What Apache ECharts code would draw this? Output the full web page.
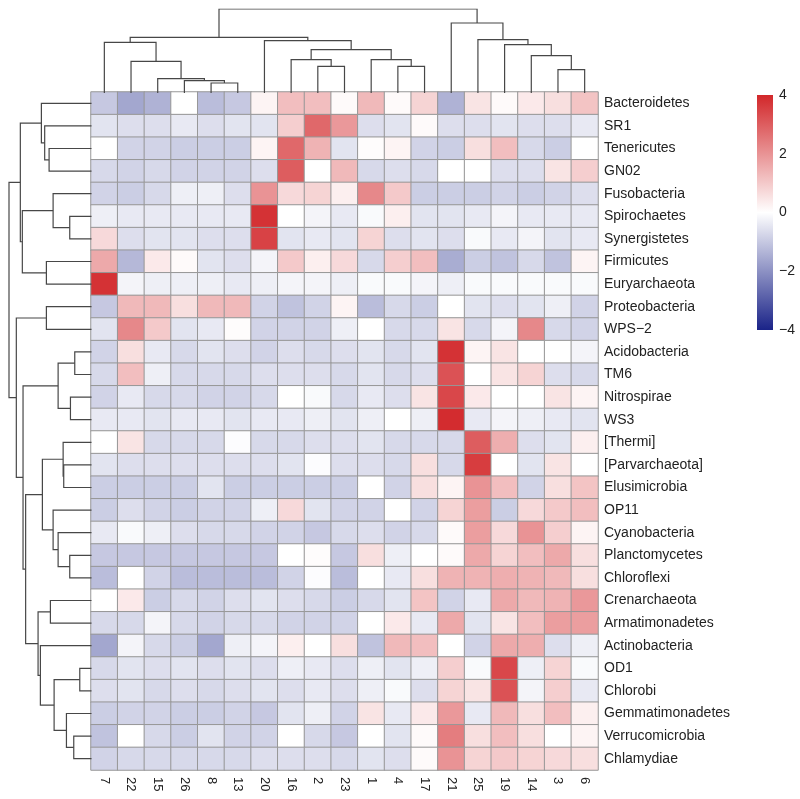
<!DOCTYPE html>
<html><head><meta charset="utf-8">
<script src="https://cdn.jsdelivr.net/npm/echarts@6/dist/echarts.min.js"></script>
<style>html,body{margin:0;padding:0;background:#fff}#c{width:800px;height:799px}</style>
</head><body><div id="c"></div>
<script>
const columns = ["7","22","15","26","8","13","20","16","2","23","1","4","17","21","25","19","14","3","6"];
const rows = ["Bacteroidetes","SR1","Tenericutes","GN02","Fusobacteria","Spirochaetes","Synergistetes","Firmicutes","Euryarchaeota","Proteobacteria","WPS\u22122","Acidobacteria","TM6","Nitrospirae","WS3","[Thermi]","[Parvarchaeota]","Elusimicrobia","OP11","Cyanobacteria","Planctomycetes","Chloroflexi","Crenarchaeota","Armatimonadetes","Actinobacteria","OD1","Chlorobi","Gemmatimonadetes","Verrucomicrobia","Chlamydiae"];
const values = [
 [-1.0,-1.6,-1.4,0,-1.2,-1.0,0.2,1.2,1.2,0.1,1.3,0.1,0.8,-1.4,0.5,0.1,0.4,0.6,1.1],
 [-0.5,-0.6,-0.6,-0.4,-0.6,-0.5,-0.5,0.9,2.8,1.9,-0.6,-0.5,0.1,-0.6,-0.6,-0.5,-0.6,-0.6,-0.4],
 [0,-0.8,-0.8,-0.9,-0.9,-0.9,0.2,2.8,1.4,-0.5,0.05,0.2,-0.8,-0.9,0.6,1.2,-0.7,-0.9,0],
 [-0.7,-0.8,-0.7,-0.8,-0.8,-0.8,-0.6,3.0,0,1.3,-0.7,-0.6,-0.7,0,0,-0.6,-0.6,0.5,0.9],
 [-0.8,-0.9,-0.7,-0.3,-0.3,-0.6,2.0,0.7,0.8,0.3,2.2,1.0,-0.9,-0.9,-0.9,-0.8,-0.9,-0.8,-0.6],
 [-0.3,-0.4,-0.4,-0.4,-0.4,-0.4,3.8,0,-0.2,-0.4,-0.1,0.3,-0.5,-0.5,-0.4,-0.2,-0.4,-0.4,-0.4],
 [0.7,-0.6,-0.5,-0.5,-0.6,-0.6,3.5,-0.5,-0.4,-0.5,0.8,-0.6,-0.5,-0.6,-0.1,-0.4,-0.2,-0.5,-0.4],
 [1.6,-1.3,0.4,0.1,-0.5,-0.6,-0.2,1.0,0.3,0.7,-0.7,0.9,1.2,-1.5,-0.9,-1.1,-0.7,-1.1,0.2],
 [3.8,-0.2,-0.3,-0.3,-0.3,-0.4,-0.3,-0.2,-0.2,-0.3,-0.1,-0.1,-0.2,-0.3,-0.1,-0.1,-0.1,-0.1,-0.1],
 [-1.0,1.3,1.3,0.6,1.3,1.3,-0.8,-1.1,-0.8,0.2,-1.2,-0.7,-0.9,0,-0.5,-0.6,-0.5,-0.3,-0.8],
 [-0.5,2.2,1.0,-0.5,-0.4,0.05,-0.8,-0.8,-0.8,-0.3,0,-0.7,-0.7,0.5,-0.7,-0.2,2.2,-0.7,-0.8],
 [-0.8,0.6,-0.4,-0.7,-0.5,-0.6,-0.8,-0.6,-0.7,-0.6,-0.5,-0.7,-0.5,3.8,0.2,0.5,0,0,-0.2],
 [-0.7,1.2,-0.3,-0.7,-0.7,-0.7,-0.6,-0.6,-0.6,-0.7,-0.5,-0.7,-0.6,3.2,0,0.5,0.8,-0.6,-0.7],
 [-0.8,-0.4,-0.7,-0.7,-0.8,-0.8,-0.7,0,-0.1,-0.7,-0.4,-0.6,0.5,3.4,0.4,0,0,0.5,0.2],
 [-0.4,-0.4,-0.5,-0.4,-0.4,-0.5,-0.4,-0.4,-0.3,-0.5,-0.3,0,-0.3,3.9,-0.4,-0.2,-0.3,-0.4,-0.5],
 [0,0.5,-0.7,-0.7,-0.7,-0.05,-0.7,-0.7,-0.6,-0.6,-0.5,-0.7,-0.7,-0.7,3.0,1.5,-0.6,-0.5,0.3],
 [-0.5,-0.6,-0.6,-0.6,-0.6,-0.6,-0.6,-0.5,-0.05,-0.6,-0.6,-0.7,0.6,-0.7,3.6,0,-0.5,0.5,0],
 [-0.9,-0.9,-0.9,-0.9,-0.5,-0.9,-0.9,-0.9,-0.9,-0.9,0,-0.8,0.6,0.2,2.0,1.2,-0.8,0.6,1.1],
 [-0.9,-0.6,-0.8,-0.9,-0.8,-0.8,-0.3,0.7,-0.5,-0.8,-0.8,0,-0.8,0.8,1.8,-0.9,0.7,1.0,1.2],
 [-0.4,-0.1,-0.3,-0.6,-0.7,-0.7,-0.8,-0.8,-1.0,-0.7,-0.6,-0.8,-0.7,0.1,1.8,0.7,2.0,0.9,0.2],
 [-1.0,-1.0,-1.0,-1.0,-1.0,-1.0,-1.0,0,0.05,-1.0,0.6,-0.3,0,0.1,1.6,0.8,1.2,1.6,0.6],
 [-1.2,0,-0.8,-1.2,-1.2,-1.2,-1.2,-0.8,-0.05,-1.2,0,-0.4,0.6,1.4,1.4,1.5,1.4,1.3,0.6],
 [0,0.4,-0.9,-0.7,-0.8,-0.6,-0.5,-0.6,-0.7,-0.9,-0.7,-0.5,1.1,-0.8,-0.4,1.6,1.3,1.4,1.9],
 [-0.7,-0.7,-0.2,-0.7,-0.8,-0.7,-0.7,-0.8,-0.8,-0.8,0,0.4,-0.4,1.6,-0.5,0.5,1.2,1.8,1.8],
 [-1.6,-0.2,-0.7,-0.9,-1.6,-0.3,-0.2,0.3,0,0.6,-1.1,1.3,1.2,0,-0.8,1.6,1.5,-0.6,-0.3],
 [-0.7,-0.5,-0.6,-0.5,-0.6,-0.5,-0.6,-0.3,-0.4,-0.6,-0.3,-0.5,-0.3,0.9,-0.1,3.4,-0.3,0.8,-0.1],
 [-0.6,-0.5,-0.7,-0.6,-0.7,-0.6,-0.5,-0.6,-0.4,-0.6,-0.3,-0.1,-0.6,0.8,0.5,3.2,-0.2,0.9,-0.4],
 [-0.9,-0.8,-0.8,-0.9,-0.9,-0.8,-1.0,-0.5,-0.3,-0.8,0.5,-0.4,0.4,1.9,-0.4,1.3,0.6,1.2,0.3],
 [-1.1,0,-0.7,-0.9,-0.5,-0.8,-0.8,0,-0.7,-1.0,0,-0.5,0.1,2.4,0.6,1.2,0.6,0,0.2],
 [-0.8,-0.7,-0.7,-0.7,-0.7,-0.7,-0.6,-0.6,-0.6,-0.7,-0.5,-0.6,0.1,2.0,0.8,1.0,0.8,0.7,0.6]
];
// column dendrogram: merges (leaf label or earlier merge index) and heights
const colMerges = [["8","13"],["26",0],["15",1],["22",2],["7",3],["2","23"],["16",5],["4","17"],["1",7],[6,8],["20",9],[4,10],["3","6"],["14",12],["19",13],["25",14],["21",15],[11,16]];
const colHeights = [10,12.3,14.3,31.7,50.7,26.7,33.3,26.7,33.3,43.3,52.3,55.7,23.3,37.3,48.3,53.3,70,84];
// row dendrogram
const rowMerges = [["Tenericutes","GN02"],["SR1",0],["Bacteroidetes",1],["Spirochaetes","Synergistetes"],["Fusobacteria",3],["Firmicutes","Euryarchaeota"],[4,5],[2,6],["Proteobacteria","WPS\u22122"],["Acidobacteria","TM6"],["Nitrospirae","WS3"],[9,10],["[Parvarchaeota]","Elusimicrobia"],["[Thermi]",12],["Planctomycetes","Chloroflexi"],["Cyanobacteria",14],["OP11",15],[13,16],["Crenarchaeota","Armatimonadetes"],["OD1","Chlorobi"],["Verrucomicrobia","Chlamydiae"],["Gemmatimonadetes",20],[19,21],["Actinobacteria",22],[18,23],[17,24],[11,25],[8,26],[7,27]];
const rowHeights = [42.3,46.7,50,21.7,38.3,45,69,71,45,16.7,21,33.3,27.7,28.3,21.7,33.3,38.3,49,41,11.7,17.7,25,37.3,51,53.3,65.7,68.3,75,82.3];
const legendTicks = [-4,-2,0,2,4];

function treeLines(merges, heights, order, swap){
  const pos = {}; order.forEach((n,i)=>pos[n]=i);
  const mp=[], mh=[];
  const P = r => typeof r === 'number' ? mp[r] : pos[r];
  const H = r => typeof r === 'number' ? mh[r] : 0;
  const out=[];
  merges.forEach((m,i)=>{
    const a=m[0], b=m[1], h=heights[i];
    const pa=P(a), pb=P(b);
    let pts=[[pa,H(a)],[pa,h],[pb,h],[pb,H(b)]];
    if(swap) pts=pts.map(p=>[p[1],p[0]]);
    out.push({coords:pts});
    mp[i]=(pa+pb)/2; mh[i]=h;
  });
  return out;
}

const heatData=[];
values.forEach((r,ri)=>r.forEach((v,ci)=>heatData.push([ci,ri,v])));

const NAVY='#1a2388', RED='#d2272a';
const font='"Liberation Sans", Arial, sans-serif';
const chart=echarts.init(document.getElementById('c'));
chart.setOption({
  animation:false,
  backgroundColor:'#fff',
  grid:[
    {left:91,top:92,width:507,height:678},
    {left:91,top:9,width:507,height:84},
    {left:9,top:92,width:82.5,height:678},
    {left:757,top:95,width:16,height:235}
  ],
  xAxis:[
    {type:'category',gridIndex:0,data:columns,axisLine:{show:false},axisTick:{show:false},splitLine:{show:false},
     axisLabel:{rotate:-90,margin:7,fontSize:13,color:'#222',fontFamily:font,interval:0}},
    {type:'value',gridIndex:1,min:-0.5,max:columns.length-0.5,show:false},
    {type:'value',gridIndex:2,min:0,max:Math.max(...rowHeights),inverse:true,show:false},
    {type:'category',gridIndex:3,data:['cb'],show:false}
  ],
  yAxis:[
    {type:'category',gridIndex:0,data:rows,inverse:true,position:'right',axisLine:{show:false},axisTick:{show:false},splitLine:{show:false},
     axisLabel:{margin:6,fontSize:14,color:'#222',fontFamily:font,interval:0}},
    {type:'value',gridIndex:1,min:0,max:Math.max(...colHeights),show:false},
    {type:'value',gridIndex:2,min:-0.5,max:rows.length-0.5,inverse:true,show:false},
    {type:'value',gridIndex:3,min:legendTicks[0],max:legendTicks[legendTicks.length-1],interval:2,position:'right',
     axisLine:{show:false},axisTick:{show:false},splitLine:{show:false},
     axisLabel:{margin:6,fontSize:14,color:'#222',fontFamily:font,formatter:v=>String(v).replace('-','\u2212')}}
  ],
  visualMap:{type:'continuous',show:false,min:-4,max:4,seriesIndex:0,dimension:2,
    inRange:{color:[NAVY,'#ffffff',RED]}},
  series:[
    {type:'heatmap',xAxisIndex:0,yAxisIndex:0,data:heatData,
     itemStyle:{borderColor:'#979797',borderWidth:1},emphasis:{disabled:true}},
    {type:'lines',coordinateSystem:'cartesian2d',xAxisIndex:1,yAxisIndex:1,polyline:true,silent:true,
     data:treeLines(colMerges,colHeights,columns,false),lineStyle:{color:'#474747',width:1.2,opacity:1}},
    {type:'lines',coordinateSystem:'cartesian2d',xAxisIndex:2,yAxisIndex:2,polyline:true,silent:true,
     data:treeLines(rowMerges,rowHeights,rows,true),lineStyle:{color:'#474747',width:1.2,opacity:1}},
    {type:'bar',xAxisIndex:3,yAxisIndex:3,stack:'cb',barWidth:'100%',silent:true,data:[legendTicks[legendTicks.length-1]],
     itemStyle:{color:new echarts.graphic.LinearGradient(0,0,0,1,[{offset:0,color:RED},{offset:1,color:'#ffffff'}])}},
    {type:'bar',xAxisIndex:3,yAxisIndex:3,stack:'cb',barWidth:'100%',silent:true,data:[legendTicks[0]],
     itemStyle:{color:new echarts.graphic.LinearGradient(0,0,0,1,[{offset:0,color:'#ffffff'},{offset:1,color:NAVY}])}}
  ]
});
</script></body></html>
